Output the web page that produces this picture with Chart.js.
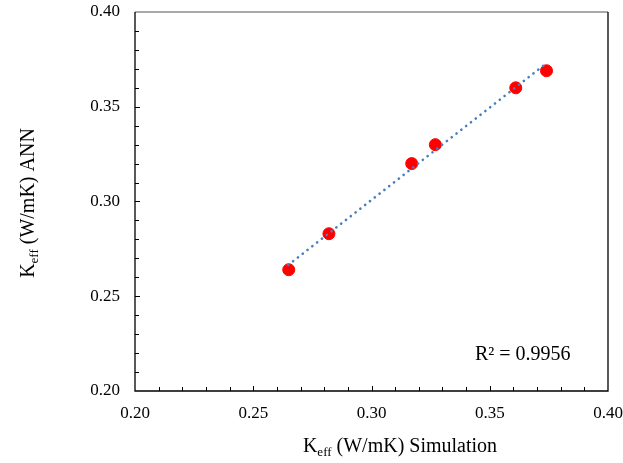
<!DOCTYPE html>
<html>
<head>
<meta charset="utf-8">
<script src="https://cdn.jsdelivr.net/npm/chart.js@4.4.1/dist/chart.umd.min.js"></script>
<style>
html,body{margin:0;padding:0;background:#fff;}
#wrap{width:623px;height:463px;position:relative;}
</style>
</head>
<body>
<div id="wrap"><canvas id="c" width="623" height="463"></canvas></div>
<script>
const simValues = [0.265, 0.282, 0.317, 0.327, 0.361, 0.374];
const annValues = [0.264, 0.283, 0.320, 0.330, 0.360, 0.369];
const trendX = [0.2648, 0.3727];
const trendY = [0.2665, 0.3717];
const tickValues = [0.20, 0.25, 0.30, 0.35, 0.40];
const xTitleMain = ' (W/mK) Simulation';
const yTitleMain = ' (W/mK) ANN';
const rSquaredText = 'R² = 0.9956';

const FONT = "'Liberation Serif', 'Times New Roman', serif";

const points = simValues.map((x, i) => ({x: x, y: annValues[i]}));
const trend = trendX.map((x, i) => ({x: x, y: trendY[i]}));

const framePlugin = {
  id: 'frame',
  afterDraw(chart) {
    const ctx = chart.ctx;
    const a = chart.chartArea;
    const xs = chart.scales.x, ys = chart.scales.y;
    ctx.save();
    // box
    ctx.lineWidth = 1.3;
    ctx.strokeStyle = '#8c8c8c';
    ctx.beginPath(); ctx.moveTo(a.left, a.top); ctx.lineTo(a.right, a.top); ctx.stroke();
    ctx.strokeStyle = '#000';
    ctx.beginPath();
    ctx.moveTo(a.right, a.top); ctx.lineTo(a.right, a.bottom);
    ctx.lineTo(a.left, a.bottom); ctx.lineTo(a.left, a.top);
    ctx.stroke();
    // inner ticks every 0.01
    ctx.lineWidth = 1;
    for (let k = 1; k < 20; k++) {
      const v = 0.2 + k * 0.01;
      const major = (k % 5 === 0);
      const len = major ? 5 : 4;
      const px = Math.round(xs.getPixelForValue(v)) + 0.5;
      ctx.beginPath(); ctx.moveTo(px, a.bottom); ctx.lineTo(px, a.bottom - len); ctx.stroke();
      const py = Math.round(ys.getPixelForValue(v)) + 0.5;
      ctx.beginPath(); ctx.moveTo(a.left, py); ctx.lineTo(a.left + len, py); ctx.stroke();
    }
    // axis titles with subscripts
    ctx.fillStyle = '#000';
    ctx.textBaseline = 'alphabetic';
    const big = "20px " + FONT, small = "13px " + FONT;
    function drawTitle(main, cx, cy) {
      ctx.font = big; const wK = ctx.measureText('K').width;
      const wM = ctx.measureText(main).width;
      ctx.font = small; const wS = ctx.measureText('eff').width;
      const total = wK + wS + wM;
      let x = cx - total / 2;
      ctx.textAlign = 'left';
      ctx.font = big; ctx.fillText('K', x, cy); x += wK;
      ctx.font = small; ctx.fillText('eff', x, cy + 4); x += wS;
      ctx.font = big; ctx.fillText(main, x, cy);
    }
    drawTitle(xTitleMain, 400, 452);
    ctx.save();
    ctx.translate(34, 203);
    ctx.rotate(-Math.PI / 2);
    drawTitle(yTitleMain, 0, 0);
    ctx.restore();
    // R squared
    ctx.font = "20px " + FONT;
    ctx.textAlign = 'left';
    ctx.textBaseline = 'middle';
    ctx.fillText(rSquaredText, 475, 355);
    ctx.restore();
  }
};

new Chart(document.getElementById('c'), {
  type: 'scatter',
  data: {
    datasets: [
      {
        label: 'Trend',
        data: trend,
        showLine: true,
        borderColor: '#4a7ebb',
        borderWidth: 2.6,
        borderCapStyle: 'round',
        borderDash: [0.1, 6],
        pointRadius: 0,
        fill: false,
        order: 1
      },
      {
        label: 'Data',
        data: points,
        backgroundColor: '#ff0000',
        borderColor: '#ff0000',
        pointRadius: 6,
        pointHoverRadius: 6,
        order: 2
      }
    ]
  },
  options: {
    responsive: false,
    animation: false,
    events: [],
    layout: {padding: 0},
    plugins: {legend: {display: false}, tooltip: {enabled: false}},
    scales: {
      x: {
        type: 'linear', min: 0.2, max: 0.4,
        afterBuildTicks: s => { s.ticks = tickValues.map(v => ({value: v})); },
        afterFit: s => { s.height = 72; s.paddingLeft = 0; s.paddingRight = 15; },
        grid: {display: false, drawTicks: false},
        border: {display: false},
        ticks: {padding: 12, color: '#000', font: {family: FONT, size: 17},
                callback: v => v.toFixed(2), maxRotation: 0}
      },
      y: {
        type: 'linear', min: 0.2, max: 0.4,
        afterBuildTicks: s => { s.ticks = tickValues.map(v => ({value: v})); },
        afterFit: s => { s.width = 135; s.paddingTop = 12; s.paddingBottom = 0; },
        grid: {display: false, drawTicks: false},
        border: {display: false},
        ticks: {padding: 15, color: '#000', font: {family: FONT, size: 17},
                callback: v => v.toFixed(2)}
      }
    }
  },
  plugins: [framePlugin]
});
</script>
</body>
</html>
